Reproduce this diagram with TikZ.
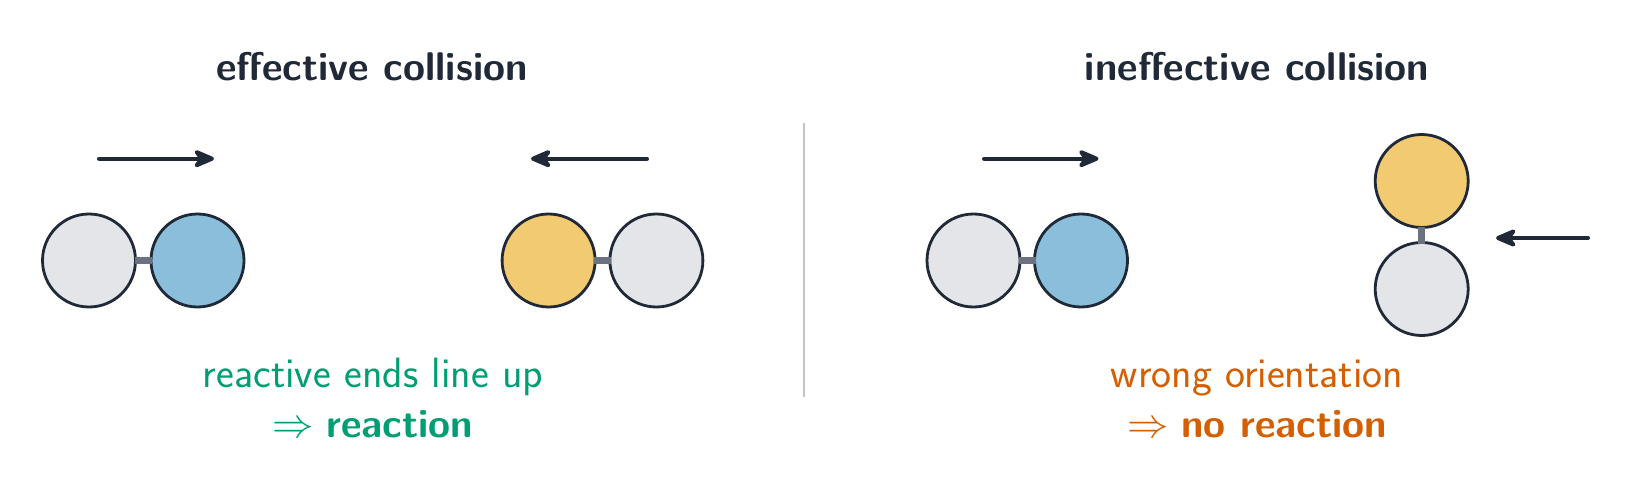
\documentclass[tikz,border=0pt]{standalone}
\usetikzlibrary{arrows.meta}
\definecolor{ink}{HTML}{1F2937}
\definecolor{atomgray}{HTML}{E3E5E8}
\definecolor{atomblue}{HTML}{8BBEDB}
\definecolor{atomgold}{HTML}{F1CA72}
\definecolor{bondgray}{HTML}{6B7280}
\definecolor{okgreen}{HTML}{009E73}
\definecolor{okorange}{HTML}{D55E00}
\definecolor{dividergray}{HTML}{C4C4C4}
\begin{document}
\begin{tikzpicture}[x=0.5pt,y=-0.5pt,
 atom/.style={circle, draw=ink, line width=1.4pt, minimum size=46.5pt, inner sep=0pt},
 bond/.style={draw=bondgray, line width=3.5pt, shorten <=-1.2pt, shorten >=-1.2pt},
 motion/.style={draw=ink, line width=2pt, line cap=round, -{Stealth[length=13pt,width=11pt,inset=4pt,round]}},
 titletext/.style={font=\sffamily\bfseries\fontsize{20}{24}\selectfont, text=ink, anchor=base},
 captext/.style={font=\sffamily\fontsize{21.2}{25}\selectfont, anchor=base},
 verdict/.style={font=\sffamily\fontsize{20}{24}\selectfont, anchor=base},
]
\useasboundingbox (0,0) rectangle (1628,492);

% titles
\node[titletext] (t1) at (372,81) {effective collision};
\node[titletext] (t2) at (1257,81) {ineffective collision};

% divider
\coordinate (d1) at (804,123);
\coordinate (d2) at (804,397);
\draw[dividergray, line width=1pt] (d1) -- (d2);

% left panel molecules
\node[atom, fill=atomgray] (g1) at (89,260.5) {};
\node[atom, fill=atomblue] (b1) at (197.5,260.5) {};
\draw[bond] (g1.east) -- (b1.west);
\node[atom, fill=atomgold] (o1) at (548.6,260.5) {};
\node[atom, fill=atomgray] (g2) at (656.4,260.5) {};
\draw[bond] (o1.east) -- (g2.west);

% left panel arrows
\coordinate (m1s) at (99,158.7);
\coordinate (m1e) at (214,158.7);
\draw[motion] (m1s) -- (m1e);
\coordinate (m2s) at (647,158.7);
\coordinate (m2e) at (531,158.7);
\draw[motion] (m2s) -- (m2e);

% right panel molecules
\node[atom, fill=atomgray] (g3) at (973.5,260.5) {};
\node[atom, fill=atomblue] (b2) at (1081,260.5) {};
\draw[bond] (g3.east) -- (b2.west);
\node[atom, fill=atomgold] (o2) at (1421.7,181) {};
\node[atom, fill=atomgray] (g4) at (1421.7,289) {};
\draw[bond] (o2.south) -- (g4.north);

% right panel arrows
\coordinate (m3s) at (984,158.7);
\coordinate (m3e) at (1098.5,158.7);
\draw[motion] (m3s) -- (m3e);
\coordinate (m4s) at (1588,238);
\coordinate (m4e) at (1496,238);
\draw[motion] (m4s) -- (m4e);

% captions
\node[captext, text=okgreen] (c1) at (373,387.5) {reactive ends line up};
\node[verdict, text=okgreen] (r1) at (373,437) {$\Rightarrow$ \textbf{reaction}};
\node[captext, text=okorange] (c2) at (1257,387.5) {wrong orientation};
\node[verdict, text=okorange] (r2) at (1257,437) {$\Rightarrow$ \textbf{no reaction}};
\end{tikzpicture}
\end{document}
